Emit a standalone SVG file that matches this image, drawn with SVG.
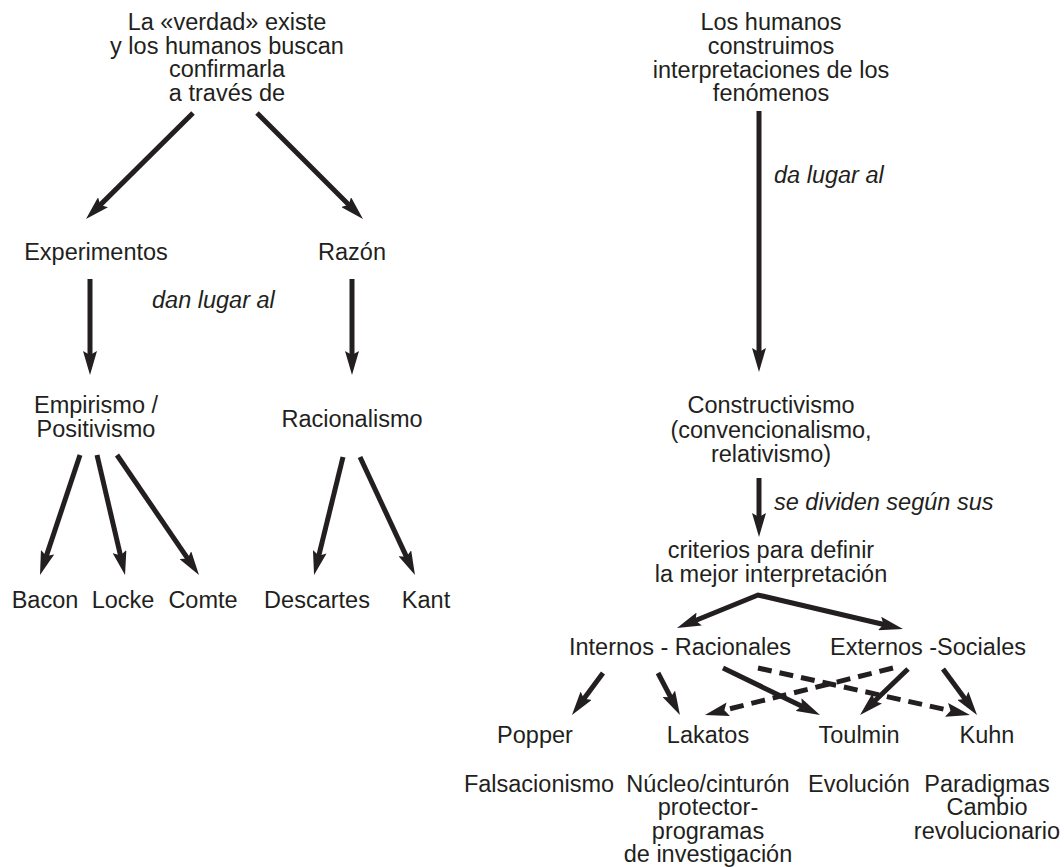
<svg xmlns="http://www.w3.org/2000/svg" width="1064" height="867" viewBox="0 0 1064 867">
<defs>
<style>
text{font-family:"Liberation Sans",Arial,Helvetica,sans-serif;font-size:23.5px;fill:#231f20;text-anchor:middle}
.it{font-style:italic;text-anchor:start}
.c{fill:none;stroke:#231f20;stroke-width:5;marker-end:url(#ah)}
.d{stroke-dasharray:14 8}
</style>
<marker id="ah" markerUnits="userSpaceOnUse" markerWidth="24" markerHeight="14" viewBox="0 0 24 14" refX="12" refY="7" orient="auto-start-reverse">
<path d="M0,0 L24,7 L0,14 L4,7 Z" fill="#231f20"/>
</marker>
</defs>
<rect width="1064" height="867" fill="#fff"/>
<g id="connectors">
<line class="c" x1="193" y1="113" x2="94.5" y2="210.6"/>
<line class="c" x1="257" y1="113" x2="354.5" y2="210.5"/>
<line class="c" x1="90" y1="279" x2="90" y2="363"/>
<line class="c" x1="352" y1="279" x2="352" y2="363"/>
<line class="c" x1="80" y1="455" x2="43.8" y2="563.6"/>
<line class="c" x1="97" y1="455" x2="122.3" y2="563.3"/>
<line class="c" x1="117" y1="455" x2="192.2" y2="565.1"/>
<line class="c" x1="343" y1="457" x2="316.9" y2="563.4"/>
<line class="c" x1="360" y1="457" x2="409.9" y2="564.1"/>
<line class="c" x1="759" y1="111" x2="759" y2="360"/>
<line class="c" x1="759" y1="478" x2="759" y2="525"/>
<path class="c" d="M688.1,623.5 L758,595 L891.3,626.3" style="marker-start:url(#ah)"/>
<line class="c" x1="603" y1="673" x2="579.1" y2="705.3"/>
<line class="c" x1="658" y1="673" x2="674.4" y2="704.4"/>
<line class="c" x1="723" y1="668" x2="809.2" y2="709.8"/>
<line class="c d" x1="758" y1="668" x2="958.3" y2="712.4"/>
<line class="c d" x1="893" y1="668" x2="716.6" y2="712.1"/>
<line class="c" x1="908" y1="669" x2="868.7" y2="706.7"/>
<line class="c" x1="943" y1="669" x2="969.9" y2="705.4"/>
</g>
<g id="verdad"><text x="227" y="30">La «verdad» existe</text><text x="227" y="54">y los humanos buscan</text><text x="227" y="77">confirmarla</text><text x="227" y="101">a través de</text></g>
<g id="experimentos"><text x="96" y="260">Experimentos</text></g>
<g id="razon"><text x="352" y="260">Razón</text></g>
<g id="lbl-dan"><text class="it" x="152" y="308">dan lugar al</text></g>
<g id="empirismo"><text x="96" y="413">Empirismo /</text><text x="96" y="437">Positivismo</text></g>
<g id="racionalismo"><text x="352" y="427">Racionalismo</text></g>
<g id="bacon"><text x="45" y="608">Bacon</text></g>
<g id="locke"><text x="123" y="608">Locke</text></g>
<g id="comte"><text x="203" y="608">Comte</text></g>
<g id="descartes"><text x="317" y="608">Descartes</text></g>
<g id="kant"><text x="426" y="608">Kant</text></g>
<g id="humanos"><text x="771" y="30">Los humanos</text><text x="771" y="54">construimos</text><text x="771" y="78">interpretaciones de los</text><text x="771" y="101">fenómenos</text></g>
<g id="lbl-da"><text class="it" x="774" y="183">da lugar al</text></g>
<g id="constructivismo"><text x="771" y="413">Constructivismo</text><text x="771" y="438">(convencionalismo,</text><text x="771" y="462">relativismo)</text></g>
<g id="lbl-se"><text class="it" x="774" y="510">se dividen según sus</text></g>
<g id="criterios"><text x="771" y="558">criterios para definir</text><text x="771" y="582">la mejor interpretación</text></g>
<g id="internos"><text x="680" y="655">Internos - Racionales</text></g>
<g id="externos"><text x="928" y="655">Externos -Sociales</text></g>
<g id="popper"><text x="535" y="743">Popper</text></g>
<g id="lakatos"><text x="708" y="743">Lakatos</text></g>
<g id="toulmin"><text x="859" y="743">Toulmin</text></g>
<g id="kuhn"><text x="987" y="743">Kuhn</text></g>
<g id="falsacionismo"><text x="539" y="792">Falsacionismo</text></g>
<g id="nucleo"><text x="708" y="792">Núcleo/cinturón</text><text x="708" y="815">protector-</text><text x="708" y="839">programas</text><text x="708" y="862">de investigación</text></g>
<g id="evolucion"><text x="859" y="792">Evolución</text></g>
<g id="paradigmas"><text x="987" y="792">Paradigmas</text><text x="987" y="815">Cambio</text><text x="987" y="839">revolucionario</text></g>
</svg>
